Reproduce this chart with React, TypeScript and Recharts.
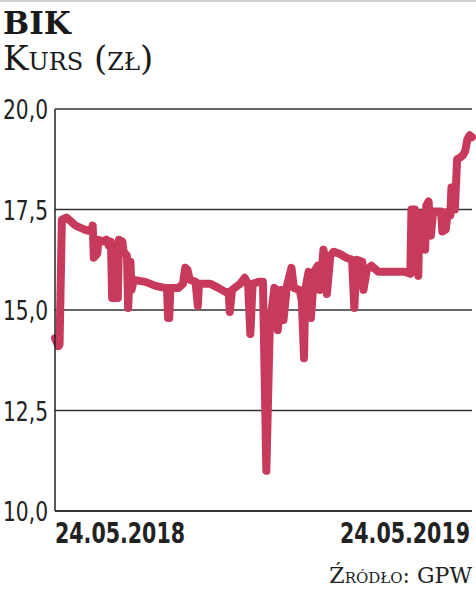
import React from 'react';
import { LineChart, Line, XAxis, YAxis, CartesianGrid } from 'recharts';

// trading day offset from 24.05.2018
const days = [
  0, 3, 4, 6, 10, 18, 26, 32, 33, 34, 37, 38, 41, 45, 47, 49, 50, 55, 56, 59,
  60, 63, 64, 66, 67, 69, 79, 88, 96, 98, 99, 100, 101, 108, 112, 114, 116, 118, 123, 125,
  126, 136, 143, 149, 152, 153, 155, 162, 166, 169, 171, 173, 178, 182, 185, 188, 192, 194, 195, 198,
  200, 203, 207, 209, 214, 216, 218, 219, 222, 224, 227, 230, 232, 235, 236, 238, 241, 244, 249, 255,
  260, 262, 264, 269, 270, 273, 277, 283, 289, 298, 306, 311, 312, 315, 317, 318, 319, 322, 324, 325,
  327, 329, 331, 334, 338, 339, 342, 344, 346, 347, 349, 350, 352, 355, 357, 359, 361, 363, 365,
];
// closing price, PLN
const prices = [
  14.3, 14.1, 14.15, 17.25, 17.3, 17.1, 17.0, 16.95, 17.1, 16.3, 16.4, 16.75, 16.7, 16.75, 16.6, 16.7, 15.3, 15.3, 16.75, 16.7,
  16.45, 16.35, 15.05, 16.2, 15.5, 15.75, 15.7, 15.6, 15.55, 15.55, 14.8, 14.8, 15.55, 15.55, 15.65, 16.05, 16.0, 15.75, 15.7, 15.1,
  15.65, 15.65, 15.55, 15.45, 15.45, 14.95, 15.5, 15.65, 15.8, 15.65, 14.4, 15.65, 15.7, 15.7, 11.0, 14.6, 15.55, 15.5, 14.5, 15.5,
  14.75, 15.6, 16.05, 15.55, 15.5, 15.25, 13.8, 15.5, 15.95, 14.8, 15.95, 16.1, 15.5, 16.5, 16.35, 15.4, 16.35, 16.45, 16.4, 16.3,
  16.25, 15.05, 16.25, 16.2, 15.5, 16.0, 16.1, 15.95, 15.95, 15.95, 15.95, 15.9, 17.5, 17.5, 16.0, 15.85, 17.4, 17.3, 16.5, 17.6,
  17.7, 16.85, 17.45, 17.45, 17.45, 16.95, 17.0, 17.45, 17.35, 18.05, 18.0, 17.5, 18.75, 18.8, 18.85, 18.95, 19.25, 19.35, 19.3,
];
const yTicks = [10, 12.5, 15, 17.5, 20];
const xTicks = [0, 365];
const xTickLabels = ['24.05.2018', '24.05.2019'];

const data = days.map((d, i) => ({ day: d, price: prices[i] }));

const numFont = '"DejaVu Sans", "Liberation Sans", sans-serif';
const serif = '"DejaVu Serif", "Liberation Serif", serif';

const YTick = (props: any) => {
  const { y, payload } = props;
  return (
    <text
      transform={`translate(3, ${y + 10}) scale(0.75, 1)`}
      textAnchor="start"
      textLength={60}
      lengthAdjust="spacingAndGlyphs"
      fontFamily={numFont}
      fontSize={27}
      fill="#222"
    >
      {payload.value.toFixed(1).replace('.', ',')}
    </text>
  );
};

const XTick = (props: any) => {
  const { x, y, payload, index } = props;
  const first = index === 0;
  const left = first ? x : x - 130 - 2;
  return (
    <text
      transform={`translate(${left}, ${y + 24}) scale(0.7345, 1)`}
      textAnchor="start"
      textLength={177}
      lengthAdjust="spacingAndGlyphs"
      fontFamily={numFont}
      fontWeight={700}
      fontSize={28}
      fill="#222"
    >
      {xTickLabels[xTicks.indexOf(payload.value)]}
    </text>
  );
};

export default function App() {
  return (
    <div style={{ position: 'absolute', left: 0, top: 0, width: 476, height: 593, background: '#fff', overflow: 'hidden' }}>
      <div style={{ position: 'absolute', left: 0, top: 0, width: 476, height: 2, background: '#cfcfcf' }} />
      <div style={{ position: 'absolute', left: 3, top: 5, fontFamily: serif, fontWeight: 700, fontSize: 31, color: '#1a1a1a', lineHeight: '36px' }}>
        BIK
      </div>
      <div style={{ position: 'absolute', left: 3, top: 38, fontFamily: serif, fontVariant: 'small-caps', fontSize: 34, color: '#1a1a1a', lineHeight: '40px' }}>
        Kurs (zł)
      </div>
      <div style={{ position: 'absolute', right: 4, top: 563, fontFamily: serif, fontVariant: 'small-caps', fontSize: 22, color: '#222', lineHeight: '26px' }}>
        Źródło: GPW
      </div>
      <div style={{ position: 'absolute', left: 0, top: 0 }}>
        <LineChart width={476} height={593} data={data} margin={{ top: 109, right: 4, bottom: 0, left: 0 }}>
          <CartesianGrid vertical={false} stroke="#333" strokeWidth={1.5} />
          <XAxis
            dataKey="day"
            type="number"
            domain={[0, 365]}
            ticks={xTicks}
            tick={<XTick />}
            tickLine={false}
            axisLine={{ stroke: '#222', strokeWidth: 1.5 }}
            height={82}
            interval={0}
          />
          <YAxis
            type="number"
            domain={[10, 20]}
            ticks={yTicks}
            tick={<YTick />}
            tickLine={false}
            axisLine={{ stroke: '#222', strokeWidth: 1.5 }}
            width={55}
            interval={0}
          />
          <Line
            type="linear"
            dataKey="price"
            stroke="#c73a5c"
            strokeWidth={8}
            strokeLinejoin="round"
            strokeLinecap="round"
            dot={false}
            isAnimationActive={false}
          />
        </LineChart>
      </div>
    </div>
  );
}
